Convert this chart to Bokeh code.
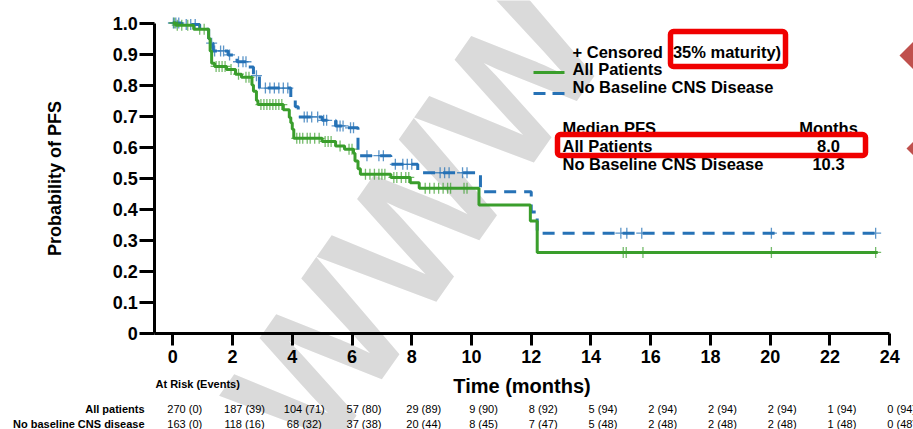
import numpy as np
from bokeh.plotting import figure
from bokeh.models import (Range1d, FixedTicker, CustomJSTickFormatter, Label, LabelSet,
                          BoxAnnotation, PolyAnnotation, Arrow, ColumnDataSource)
from bokeh.core.properties import value
from bokeh.embed import file_html
from bokeh.resources import INLINE

# ---------------- data ----------------
all_times = [0, 0.1, 0.7, 1.2, 1.25, 1.3, 1.4, 1.8, 2.1, 2.3, 2.65, 2.7, 2.8, 2.85, 3.7,
             3.9, 3.95, 4.0, 4.05, 5.0, 5.45, 5.75, 6.05, 6.1, 6.2, 6.28, 7.3, 7.95,
             8.25, 10.25, 11.97, 12.2]
all_surv = [1.0, 0.993, 0.98, 0.95, 0.91, 0.87, 0.86, 0.85, 0.835, 0.825, 0.80, 0.78,
            0.75, 0.737, 0.72, 0.695, 0.678, 0.657, 0.628, 0.618, 0.603, 0.593, 0.58,
            0.555, 0.53, 0.512, 0.502, 0.485, 0.467, 0.413, 0.361, 0.26]
nocns_times = [0, 0.3, 0.9, 1.2, 1.25, 1.35, 1.85, 2.15, 2.5, 2.7, 2.9, 3.95, 4.1, 4.2,
               5.0, 5.45, 5.85, 6.2, 7.3, 8.2, 10.3, 12.0, 12.2]
nocns_surv = [1.0, 0.995, 0.98, 0.95, 0.935, 0.91, 0.897, 0.875, 0.858, 0.83, 0.79, 0.76,
              0.73, 0.697, 0.686, 0.668, 0.662, 0.572, 0.544, 0.517, 0.456, 0.39, 0.322]
follow_up_end = 23.6

all_censored = [0.05, 0.15, 0.3, 0.5, 0.9, 1.05, 1.45, 1.55, 1.65, 1.75, 1.95, 2.2, 2.45,
                2.55, 2.95, 3.05, 3.15, 3.25, 3.35, 3.45, 3.55, 3.65, 4.15, 4.25, 4.35,
                4.5, 4.6, 4.75, 4.9, 5.1, 5.2, 5.3, 5.6, 5.9, 6.0, 6.45, 6.6, 6.75, 6.9,
                7.0, 7.1, 7.4, 7.5, 7.65, 7.8, 7.9, 8.45, 8.6, 8.75, 8.9, 9.05, 9.2, 9.3,
                9.75, 9.85, 15.08, 15.18, 15.74, 20.04, 23.53]
nocns_censored = [0.02, 0.1, 0.2, 0.45, 0.6, 0.75, 1.3, 1.4, 1.6, 1.7, 1.9, 2.2, 2.35,
                  2.45, 2.8, 3.1, 3.25, 3.4, 3.55, 3.7, 3.85, 4.4, 4.5, 4.65, 4.85, 5.05,
                  5.15, 5.5, 5.6, 5.7, 5.95, 6.05, 6.5, 6.9, 7.05, 7.45, 7.7, 7.85, 8.0,
                  8.95, 9.1, 9.25, 9.7, 9.85, 15.0, 15.2, 15.7, 20.04, 23.53]

x_ticks = [0, 2, 4, 6, 8, 10, 12, 14, 16, 18, 20, 22, 24]
y_ticks = [0.0, 0.1, 0.2, 0.3, 0.4, 0.5, 0.6, 0.7, 0.8, 0.9, 1.0]

risk_times = [0, 2, 4, 6, 8, 10, 12, 14, 16, 18, 20, 22, 24]
risk_all = ["270 (0)", "187 (39)", "104 (71)", "57 (80)", "29 (89)", "9 (90)", "8 (92)",
            "5 (94)", "2 (94)", "2 (94)", "2 (94)", "1 (94)", "0 (94)"]
risk_nocns = ["163 (0)", "118 (16)", "68 (32)", "37 (38)", "20 (44)", "8 (45)", "7 (47)",
              "5 (48)", "2 (48)", "2 (48)", "2 (48)", "1 (48)", "0 (48)"]

series_names = ["All Patients", "No Baseline CNS Disease"]
risk_row_names = ["All patients", "No baseline CNS disease"]
median_values = ["8.0", "10.3"]

# ---------------- layout / style ----------------
FONT = "Liberation Sans"
GREEN = "#3a9e2c"
BLUE = "#2672b6"
RED = "#f00000"
W, H = 913, 429
X0_PX, PX_PER_MONTH = 172.3, 29.87     # pixel of time 0, pixels per month
Y0_PX, PX_PER_UNIT = 332.5, 310.0      # pixel of probability 0, pixels per 1.0
X_AXIS_START = -0.6


def sx(px):
    """page x -> screen x (frame covers the whole canvas)"""
    return px


def sy(py):
    """page y -> screen y measured up from the canvas bottom"""
    return H - py


p = figure(width=W, height=H, output_backend="svg", toolbar_location=None,
           x_range=Range1d(-X0_PX / PX_PER_MONTH, (W - X0_PX) / PX_PER_MONTH),
           y_range=Range1d(-(H - Y0_PX) / PX_PER_UNIT, Y0_PX / PX_PER_UNIT),
           min_border=0)
p.outline_line_color = None
p.xgrid.visible = False
p.ygrid.visible = False
p.background_fill_color = "white"
p.border_fill_color = "white"

xa = p.xaxis[0]
xa.ticker = FixedTicker(ticks=x_ticks)
xa.axis_label = "Time (months)"
xa.fixed_location = 0
xa.bounds = (X_AXIS_START, x_ticks[-1])
ya = p.yaxis[0]
ya.ticker = FixedTicker(ticks=y_ticks)
ya.formatter = CustomJSTickFormatter(code="return tick == 0 ? '0' : tick.toFixed(1);")
ya.axis_label = "Probability of PFS"
ya.fixed_location = X_AXIS_START
ya.bounds = (y_ticks[0], y_ticks[-1])
for ax in (xa, ya):
    ax.axis_label_text_font = FONT
    ax.axis_label_text_font_style = "bold"
    ax.axis_label_text_color = "black"
    ax.major_label_text_font = FONT
    ax.major_label_text_font_size = "18px"
    ax.major_label_text_font_style = "bold"
    ax.major_label_text_color = "black"
    ax.axis_line_width = 3
    ax.axis_line_color = "black"
    ax.major_tick_line_width = 3
    ax.major_tick_line_color = "black"
    ax.major_tick_in = 0
    ax.minor_tick_line_color = None
xa.axis_label_text_font_size = "20px"
xa.axis_label_standoff = 8
xa.major_label_standoff = 5
xa.major_tick_out = 12
ya.axis_label_text_font_size = "18px"
ya.axis_label_standoff = 44
ya.major_label_standoff = 2
ya.major_tick_out = 15

# watermark (under the curves)
p.add_layout(Label(x=sx(415), y=sy(222), x_units="screen", y_units="screen", text="WWW",
                   angle=55, angle_units="deg", text_align="center", text_baseline="middle",
                   text_font=FONT, text_font_size="180px", text_font_style="bold",
                   text_color="#dadada", level="underlay"))


def step_xy(t, s, end):
    return list(t) + [end], list(s) + [s[-1]]


def surv_at(times, surv, t):
    idx = np.searchsorted(np.asarray(times), np.asarray(t), side="right") - 1
    return np.asarray(surv)[idx]


bx, by = step_xy(nocns_times, nocns_surv, follow_up_end)
p.step(bx, by, mode="after", line_color=BLUE, line_width=3, line_dash="12 8")
p.scatter(nocns_censored, surv_at(nocns_times, nocns_surv, nocns_censored), marker="cross",
          size=11, line_color=BLUE, line_width=1.3, line_alpha=0.75)

gx, gy = step_xy(all_times, all_surv, follow_up_end)
p.step(gx, gy, mode="after", line_color=GREEN, line_width=3)
p.scatter(all_censored, surv_at(all_times, all_surv, all_censored), marker="cross",
          size=11, line_color=GREEN, line_width=1.3, line_alpha=0.7)


def lab(px, py, text, size="16.5px", align="left", bold=True, color="black"):
    p.add_layout(Label(x=sx(px), y=sy(py), x_units="screen", y_units="screen", text=text,
                       text_align=align, text_baseline="middle", text_font=FONT,
                       text_font_size=size, text_font_style="bold" if bold else "normal",
                       text_color=color))


# legend
lab(572, 51, "+ Censored (35% maturity)")
lab(572, 68, series_names[0])
lab(572, 86, series_names[1])
p.add_layout(Arrow(x_start=sx(533), y_start=sy(72), x_end=sx(564), y_end=sy(72),
                   start_units="screen", end_units="screen", end=None,
                   line_color=GREEN, line_width=3))
p.add_layout(Arrow(x_start=sx(533), y_start=sy(93), x_end=sx(564), y_end=sy(93),
                   start_units="screen", end_units="screen", end=None,
                   line_color=BLUE, line_width=3, line_dash="12 7"))

# median table
lab(562, 127, "Median PFS")
lab(828, 127, "Months", align="center")
lab(562, 145, series_names[0])
lab(828, 145, median_values[0], align="center")
lab(562, 163, series_names[1])
lab(828, 163, median_values[1], align="center")

# red highlight boxes
for (l, r, t, b) in [(670, 785, 31, 66), (557, 865, 134, 155)]:
    p.add_layout(BoxAnnotation(left=sx(l), right=sx(r), top=sy(t), bottom=sy(b),
                               left_units="screen", right_units="screen",
                               top_units="screen", bottom_units="screen",
                               fill_alpha=0, line_color=RED, line_alpha=1, line_width=5.5,
                               border_radius=3))

# decorative diamonds at the right edge
for (tx, ty, r) in [(899, 55, 22), (906, 148, 16)]:
    p.add_layout(PolyAnnotation(xs=[sx(tx), sx(tx + r), sx(tx + 2 * r), sx(tx + r)],
                                ys=[sy(ty), sy(ty - r), sy(ty), sy(ty + r)],
                                xs_units="screen", ys_units="screen",
                                fill_color="#c0504d", fill_alpha=1, line_color=None))

# at-risk table
lab(155, 383, "At Risk (Events)", size="11px")
lab(144, 408, risk_row_names[0], size="11px", align="right")
lab(144, 423, risk_row_names[1], size="11px", align="right")
src = ColumnDataSource(dict(t=risk_times, a=risk_all, b=risk_nocns))
for col, py in (("a", 408), ("b", 423)):
    p.add_layout(LabelSet(x="t", y=sy(py), y_units="screen", text=col, source=src,
                          text_align="center", text_baseline="middle", x_offset=12,
                          text_font=value(FONT), text_font_size=value("11px"),
                          text_color="black"))

open("out.html", "w").write(file_html(p, INLINE))
